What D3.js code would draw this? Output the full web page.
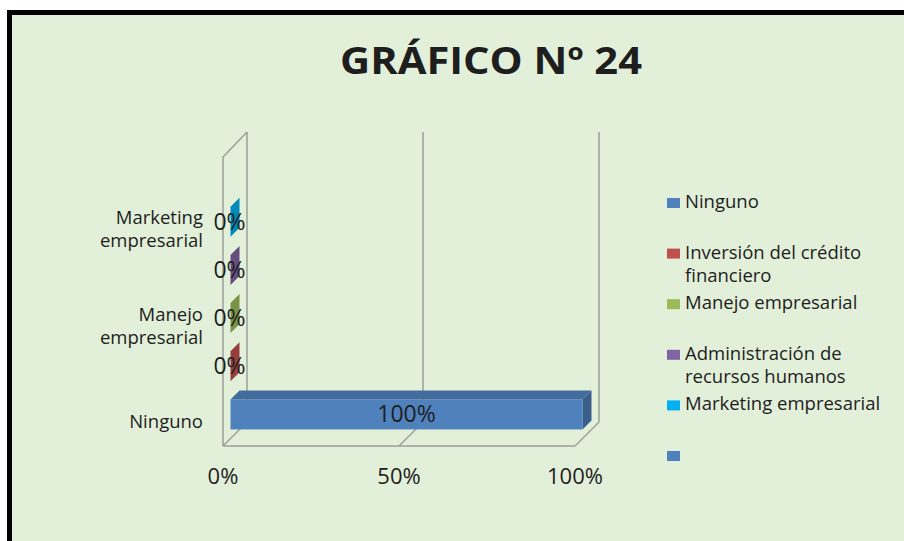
<!DOCTYPE html>
<html>
<head>
<meta charset="utf-8">
<script src="https://cdn.jsdelivr.net/npm/d3@7"></script>
<style>
  body { margin: 0; background: #fff; }
  svg { display: block; }
  text { font-family: "Open Sans", sans-serif; fill: #1e1e1e; }
</style>
</head>
<body>
<svg id="chart" width="904" height="541"></svg>
<script>
// Chart data
const categories = ["Ninguno", "Inversión del crédito financiero", "Manejo empresarial",
  "Administración de recursos humanos", "Marketing empresarial", ""];
const values = [100, 0, 0, 0, 0, null];
const colors = ["#4f81bd", "#c0504d", "#9bbb59", "#8064a2", "#00b0f0", "#4f81bd"];
const axisLabels = [["Ninguno"], [], ["Manejo", "empresarial"], [], ["Marketing", "empresarial"], []];
const legendLabels = [["Ninguno"], ["Inversión del crédito", "financiero"], ["Manejo empresarial"],
  ["Administración de", "recursos humanos"], ["Marketing empresarial"], []];
const xTicks = [0, 50, 100];

const width = 904, height = 541;
const depth = 24;             // floor depth offset (px, both x and y)
const barFront = 7.5, barBack = 16.5;

const svg = d3.select("#chart");

// Background + frame
svg.append("rect")
  .attr("x", 9.5).attr("y", 12.5)
  .attr("width", width + 20).attr("height", height + 20)
  .attr("fill", "#e2efd9")
  .attr("stroke", "#000")
  .attr("stroke-width", 5);

svg.append("text")
  .attr("x", 491).attr("y", 74)
  .attr("text-anchor", "middle")
  .attr("font-size", 37)
  .attr("font-weight", 700)
  .attr("textLength", 302)
  .attr("lengthAdjust", "spacingAndGlyphs")
  .text("GRÁFICO Nº 24");

// Scales on the front plane of the 3D box
const x = d3.scaleLinear().domain([0, 100]).range([223, 575]);
const y = d3.scaleBand()
  .domain(d3.range(categories.length))
  .range([446, 157])
  .paddingInner(0.377)
  .paddingOuter(0.1885);

const grid = svg.append("g")
  .attr("fill", "none")
  .attr("stroke", "#9c9f9a")
  .attr("stroke-width", 1.5);

// Back wall verticals and floor lines
grid.selectAll(".back")
  .data(xTicks)
  .join("line")
  .attr("x1", d => x(d) + depth).attr("x2", d => x(d) + depth)
  .attr("y1", 132).attr("y2", 446 - depth);
grid.selectAll(".floor")
  .data(xTicks)
  .join("line")
  .attr("x1", d => x(d) + depth).attr("x2", d => x(d))
  .attr("y1", 446 - depth).attr("y2", 446);
grid.append("line")
  .attr("x1", x(0)).attr("x2", x(100))
  .attr("y1", 446).attr("y2", 446);
// Left side wall
grid.append("path")
  .attr("d", `M${x(0)},446V157L${x(0) + depth},132`);

// Bars
const bars = svg.append("g")
  .selectAll("g")
  .data(values.map((v, i) => ({ v, i })).filter(d => d.v !== null))
  .join("g");

const geom = d => {
  const x0 = x(0) + barFront, x1 = x(d.v) + barFront;
  const yt = y(d.i) - barFront, yb = yt + y.bandwidth();
  const s = barBack - barFront;
  return { x0, x1, yt, yb, s };
};

bars.append("path")
  .attr("fill", d => d3.color(colors[d.i]).darker(0.5))
  .attr("d", d => {
    const g = geom(d);
    return `M${g.x0},${g.yt}H${g.x1}l${g.s},${-g.s}H${g.x0 + g.s}Z`;
  });
bars.append("path")
  .attr("fill", d => d3.color(colors[d.i]).darker(d.v === 0 ? 0.7 : 0.9))
  .attr("d", d => {
    const g = geom(d);
    return `M${g.x1},${g.yt}l${g.s},${-g.s}V${g.yb - g.s}L${g.x1},${g.yb}Z`;
  });
bars.filter(d => d.v > 0).append("rect")
  .attr("x", d => geom(d).x0)
  .attr("y", d => geom(d).yt)
  .attr("width", d => geom(d).x1 - geom(d).x0)
  .attr("height", y.bandwidth())
  .attr("fill", d => colors[d.i]);

// Data labels
bars.append("text")
  .attr("x", d => d.v > 0 ? (geom(d).x0 + geom(d).x1) / 2 : geom(d).x0 - 1)
  .attr("y", d => geom(d).yt + y.bandwidth() / 2 + 8)
  .attr("text-anchor", "middle")
  .attr("font-size", 23)
  .text(d => d.v + "%");

// Category axis labels
svg.append("g")
  .selectAll("text")
  .data(axisLabels.map((lines, i) => ({ lines, i })).filter(d => d.lines.length))
  .join("text")
  .attr("text-anchor", "end")
  .attr("font-size", 18.5)
  .each(function (d) {
    const cy = y(d.i) + y.bandwidth() / 2;
    const y0 = cy + 6.5 - (d.lines.length - 1) * 11.5;
    d3.select(this).selectAll("tspan")
      .data(d.lines)
      .join("tspan")
      .attr("x", 203)
      .attr("y", (l, k) => y0 + k * 23)
      .text(l => l);
  });

// Value axis labels
svg.append("g")
  .selectAll("text")
  .data(xTicks)
  .join("text")
  .attr("x", d => x(d))
  .attr("y", 484)
  .attr("text-anchor", "middle")
  .attr("font-size", 22)
  .text(d => d + "%");

// Legend
const legend = svg.append("g")
  .selectAll("g")
  .data(legendLabels)
  .join("g")
  .attr("transform", (d, i) => `translate(667,${198 + i * 50.6})`);
legend.append("rect")
  .attr("width", 13).attr("height", 10)
  .attr("fill", (d, i) => colors[i]);
legend.append("text")
  .attr("font-size", 18.5)
  .each(function (lines) {
    d3.select(this).selectAll("tspan")
      .data(lines)
      .join("tspan")
      .attr("x", 18)
      .attr("y", (l, k) => 10 + k * 23)
      .text(l => l);
  });
</script>
</body>
</html>
